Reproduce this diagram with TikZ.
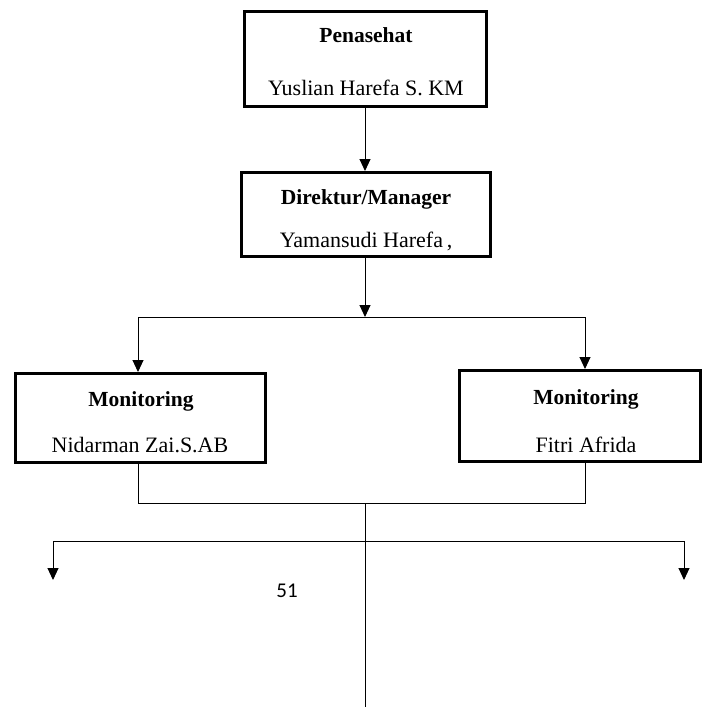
\documentclass[tikz,border=0pt]{standalone}
\usepackage{fontspec}
\setmainfont{Liberation Serif}
\newfontfamily\numfont{Carlito}
\usetikzlibrary{arrows.meta}
\begin{document}
\begin{tikzpicture}[x=1pt,y=-1pt,
  box/.style={draw,line width=3pt,rectangle,inner sep=0pt},
  lbl/.style={anchor=mid,inner sep=0pt,font=\fontsize{22}{24}\selectfont},
  ttl/.style={lbl,font=\fontsize{21.5}{24}\selectfont\bfseries},
  conn/.style={line width=1pt},
  arr/.style={conn,-{Triangle[length=12pt,width=11pt]}}]
\useasboundingbox (0,0) rectangle (703,707);
% boxes
\node[box,minimum width=242pt,minimum height=95pt] (b1) at (365.5,59) {};
\node[box,minimum width=249pt,minimum height=84pt] (b2) at (366,214.5) {};
\node[box,minimum width=250pt,minimum height=89pt] (b3) at (140.5,418) {};
\node[box,minimum width=241pt,minimum height=91pt] (b4) at (580,416) {};
% texts
\node[ttl] (t1) at (366,40) {Penasehat};
\node[lbl] (n1) at (366,93) {Yuslian Harefa S. KM};
\node[ttl] (t2) at (366,202) {Direktur/Manager};
\node[lbl] (n2) at (366,245) {Yamansudi Harefa\,,};
\node[ttl] (t3) at (141,404) {Monitoring};
\node[lbl] (n3) at (140,450) {Nidarman Zai.S.AB};
\node[ttl] (t4) at (586,402) {Monitoring};
\node[lbl] (n4) at (586,450) {Fitri Afrida};
\node[anchor=mid,inner sep=0pt,font=\numfont\fontsize{21}{24}\selectfont] (pg) at (287,595) {51};
% junction coordinates
\coordinate (j1) at (365,317);
\coordinate (jl) at (138,317);
\coordinate (jr) at (585,317);
\coordinate (kl) at (138,503);
\coordinate (kr) at (585,503);
\coordinate (kc) at (365,503);
\coordinate (bot) at (365,707);
\coordinate (hc) at (365,541);
\coordinate (hl) at (53,541);
\coordinate (hr) at (684,541);
\coordinate (al) at (53,580);
\coordinate (ar) at (684,580);
% connectors
\draw[arr] (b1.south -| j1) -- (b2.north -| j1);
\draw[arr] (b2.south -| j1) -- (j1);
\draw[conn] (jl) -- (jr);
\draw[arr] (jl) -- (b3.north -| jl);
\draw[arr] (jr) -- (b4.north -| jr);
\draw[conn] (b3.south -| kl) -- (kl) -- (kr) -- (b4.south -| kr);
\draw[conn] (kc) -- (bot);
\draw[conn] (hl) -- (hr);
\draw[arr] (hl) -- (al);
\draw[arr] (hr) -- (ar);
\end{tikzpicture}
\end{document}
